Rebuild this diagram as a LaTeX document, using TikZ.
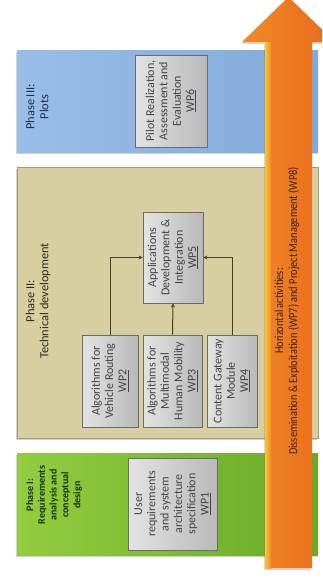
\documentclass[tikz,border=0pt]{standalone}
\usepackage{fontspec}
\setmainfont{Carlito}
\newfontfamily\condensedfont[FakeStretch=0.85]{Carlito}
\usetikzlibrary{shadows,arrows.meta}
\definecolor{blueL}{HTML}{98BEE8}
\definecolor{blueR}{HTML}{82AADB}
\definecolor{tanP}{HTML}{D7CF9F}
\definecolor{tanB}{HTML}{A39C72}
\definecolor{greenL}{HTML}{93CC3E}
\definecolor{greenR}{HTML}{6AAA2A}
\definecolor{orangeL}{HTML}{F18A28}
\definecolor{orangeR}{HTML}{E9691B}
\definecolor{yellowS}{HTML}{F7C531}
\definecolor{boxB}{HTML}{6A6A6A}
\definecolor{boxT}{HTML}{454545}
\definecolor{conn}{HTML}{4A3F22}
\definecolor{navyT}{HTML}{1F2E55}
\definecolor{oliveT}{HTML}{2E2C20}
\definecolor{greenT}{HTML}{1A300C}
\definecolor{arrowT}{HTML}{3A2010}
\tikzset{
  panel/.style={drop shadow={shadow xshift=-1.5pt,shadow yshift=-2pt,opacity=0.35}},
  wpbox/.style={draw=boxB, line width=0.7pt, left color=gray!22, middle color=gray!4, right color=gray!55, inner sep=0pt},
  wptext/.style={rotate=90, align=center, text=boxT, inner sep=0pt, font=\fontsize{12}{13.3}\selectfont},
  phaselabel/.style={rotate=90, align=center, inner sep=0pt, font=\fontsize{12.4}{14}\selectfont},
  conarrow/.style={draw=conn, line width=1pt, -{Stealth[length=4pt,width=4pt]}}
}
\begin{document}
\begin{tikzpicture}[x=1pt,y=-1pt]
\useasboundingbox (0,0) rectangle (322,579);
\fill[white] (0,0) rectangle (322,579);
\begin{scope}
\clip (0,0) rectangle (322,579);
% panels
\path[panel, left color=blueL, right color=blueR] (17,50) rectangle (318,152);
\path[panel, fill=tanP, draw=tanB, line width=0.8pt] (17,167) rectangle (318,438);
\path[panel, left color=greenL, right color=greenR] (17,453) rectangle (318,555);

% phase labels
\node[phaselabel, text=navyT] (ph3) at (37,107) {Phase III:\\Plots};
\node[phaselabel, text=oliveT] (ph2) at (38,301) {Phase II:\\Technical development};
\node[phaselabel, text=greenT, font=\fontsize{10}{11.8}\selectfont\bfseries] (ph1) at (54,495) {Phase I:\\Requirements\\analysis and\\conceptual\\design};

% boxes
\node[wpbox, minimum width=72pt, minimum height=92pt] (wp6) at (171,101) {};
\node[wptext] at (wp6) {Pilot Realization,\\Assessment and\\Evaluation\\\underline{WP6}};

\node[wpbox, minimum width=60pt, minimum height=91pt] (wp5) at (173,257.5) {};
\node[wptext] at (wp5) {Applications\\Development \&\\Integration\\\underline{WP5}};

\node[wpbox, minimum width=56pt, minimum height=92pt] (wp2) at (110,381) {};
\node[wptext] at (wp2) {Algorithms for\\Vehicle Routing\\\underline{WP2}};

\node[wpbox, minimum width=59pt, minimum height=92pt] (wp3) at (172.5,381) {};
\node[wptext] at (wp3) {Algorithms for\\Multimodal\\Human Mobility\\\underline{WP3}};

\node[wpbox, minimum width=50pt, minimum height=92pt] (wp4) at (232,381) {};
\node[wptext] at (wp4) {Content Gateway\\Module\\\underline{WP4}};

\node[wpbox, minimum width=89pt, minimum height=92pt] (wp1) at (172.5,504) {};
\node[wptext] at (wp1) {User\\requirements\\and system\\architecture\\specification\\\underline{WP1}};

% connectors
\draw[conarrow] (wp2.north) |- (wp5.west);
\draw[conarrow] (wp3.north) -- (wp5.south);
\draw[conarrow] (wp4.north) |- (wp5.east);

% orange arrow
\path[drop shadow={shadow xshift=-1pt,shadow yshift=-2pt,opacity=0.3}, left color=orangeL, right color=orangeR]
  (265,568) -- (265,42) -- (242,42) -- (288.5,-3) -- (335,42) -- (312,42) -- (312,568) -- cycle;
\shade[left color=yellowS, right color=orangeL] (265,42) rectangle (271,568);
\node[phaselabel, text=arrowT, font=\condensedfont\fontsize{12.2}{14}\selectfont] (hor) at (287,311) {Horizontal activities:\\Dissemination \& Exploitation (WP7) and Project Management (WP8)};
\end{scope}
\end{tikzpicture}
\end{document}
